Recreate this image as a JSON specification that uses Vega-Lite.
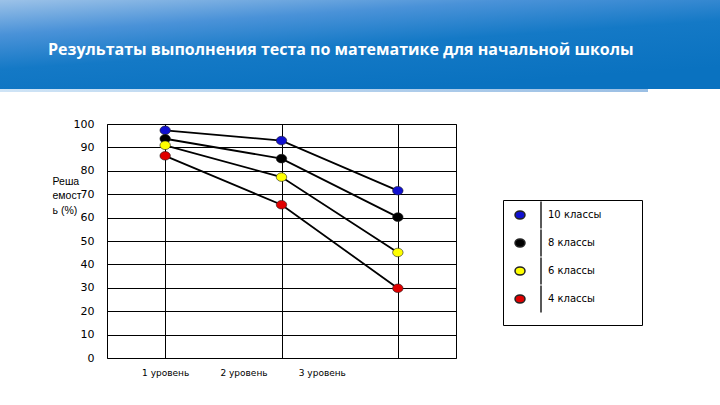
{
  "$schema": "https://vega.github.io/schema/vega-lite/v6.json",
  "padding": 0,
  "background": "white",
  "config": {"view": {"stroke": null}},
  "datasets": {
    "results": [
      {"level": "1 уровень", "group": "10 классы", "pct": 97.3},
      {"level": "2 уровень", "group": "10 классы", "pct": 92.9},
      {"level": "3 уровень", "group": "10 классы", "pct": 71.5},
      {"level": "1 уровень", "group": "8 классы", "pct": 93.7},
      {"level": "2 уровень", "group": "8 классы", "pct": 85.2},
      {"level": "3 уровень", "group": "8 классы", "pct": 60.2},
      {"level": "1 уровень", "group": "6 классы", "pct": 90.9},
      {"level": "2 уровень", "group": "6 классы", "pct": 77.3},
      {"level": "3 уровень", "group": "6 классы", "pct": 45.1},
      {"level": "1 уровень", "group": "4 классы", "pct": 86.4},
      {"level": "2 уровень", "group": "4 классы", "pct": 65.5},
      {"level": "3 уровень", "group": "4 классы", "pct": 29.8}
    ]
  },
  "spacing": 25,
  "vconcat": [
    {
      "spacing": 0,
      "vconcat": [
        {
          "width": 720,
          "height": 89,
          "data": {"values": [{}]},
          "title": {
            "text": "Результаты выполнения теста по математике для начальной школы",
            "anchor": "start",
            "orient": "top",
            "offset": -66,
            "baseline": "middle",
            "dx": 48,
            "font": "Open Sans",
            "fontSize": 16,
            "fontWeight": "bold",
            "color": "white"
          },
          "mark": {
            "type": "rect",
            "fill": {
              "gradient": "linear",
              "x1": 0, "y1": 0, "x2": 0.55, "y2": 1,
              "stops": [
                {"offset": 0, "color": "#9cc2e8"},
                {"offset": 0.3, "color": "#4a92d8"},
                {"offset": 0.6, "color": "#1479c6"},
                {"offset": 1, "color": "#0a72c0"}
              ]
            }
          }
        },
        {
          "width": 648,
          "height": 3,
          "data": {"values": [{}]},
          "mark": {
            "type": "rect",
            "fill": {
              "gradient": "linear",
              "x1": 0, "y1": 0, "x2": 1, "y2": 0,
              "stops": [
                {"offset": 0, "color": "#cfe4f6"},
                {"offset": 1, "color": "#9bbfe4"}
              ]
            }
          }
        }
      ]
    },
    {
      "spacing": 0,
      "hconcat": [
        {
          "width": 51,
          "height": 10,
          "data": {"values": []},
          "mark": "point"
        },
        {
          "width": 349,
          "height": 234,
          "view": {"stroke": "black", "strokeWidth": 1},
          "data": {"name": "results"},
          "encoding": {
            "x": {
              "field": "level",
              "type": "ordinal",
              "scale": {"type": "point", "padding": 0.5},
              "axis": {
                "title": null,
                "domain": false,
                "ticks": false,
                "grid": true,
                "gridColor": "black",
                "gridOpacity": 1,
                "gridWidth": 1,
                "labelAngle": 0,
                "labelFont": "DejaVu Sans",
                "labelFontSize": 9,
                "labelColor": "black",
                "labelPadding": 10,
                "labelOffset": {
                  "condition": [
                    {"test": "datum.value === '2 уровень'", "value": -38},
                    {"test": "datum.value === '3 уровень'", "value": -76}
                  ],
                  "value": 0
                }
              }
            },
            "y": {
              "field": "pct",
              "type": "quantitative",
              "scale": {"domain": [0, 100], "nice": false},
              "axis": {
                "values": [0, 10, 20, 30, 40, 50, 60, 70, 80, 90, 100],
                "domain": false,
                "ticks": false,
                "grid": true,
                "gridColor": "black",
                "gridOpacity": 1,
                "gridWidth": 1,
                "labelFont": "DejaVu Sans",
                "labelFontSize": 11,
                "labelColor": "black",
                "labelPadding": 13,
                "title": ["Реша", "емост", "ь (%)"],
                "titleAngle": 0,
                "titleAlign": "left",
                "titleBaseline": "top",
                "titleX": -55,
                "titleY": 52,
                "titleFont": "Liberation Sans",
                "titleFontSize": 10.5,
                "titleFontWeight": "normal",
                "titleColor": "black",
                "titleLineHeight": 14.5
              }
            }
          },
          "layer": [
            {
              "mark": {"type": "line", "color": "black", "strokeWidth": 1.8},
              "encoding": {"detail": {"field": "group"}}
            },
            {
              "mark": {
                "type": "point",
                "filled": true,
                "opacity": 1,
                "size": 110,
                "shape": "M -1,0 A 1,0.82 0 1,0 1,0 A 1,0.82 0 1,0 -1,0 Z",
                "stroke": "#222222",
                "strokeWidth": 0.6
              },
              "encoding": {
                "color": {
                  "field": "group",
                  "type": "nominal",
                  "scale": {
                    "domain": ["10 классы", "8 классы", "6 классы", "4 классы"],
                    "range": ["#1010d0", "#000000", "#ffff00", "#e00000"]
                  },
                  "legend": {
                    "title": null,
                    "orient": "none",
                    "legendX": 503,
                    "legendY": 200,
                    "padding": 9,
                    "rowPadding": -6,
                    "strokeColor": "black",
                    "fillColor": "white",
                    "symbolType": "M -1.3,0 M -1,0 A 1,0.8 0 1,0 1,0 A 1,0.8 0 1,0 -1,0 Z M 4.2,-2.72 L 4.2,2.72 M 21.9,0",
                    "symbolSize": 100,
                    "symbolOffset": 2,
                    "labelOffset": 22,
                    "labelFont": "DejaVu Sans",
                    "labelFontSize": 10,
                    "labelColor": "black",
                    "encode": {
                      "symbols": {
                        "update": {
                          "stroke": {"value": "black"},
                          "strokeWidth": {"value": 1},
                          "opacity": {"value": 1}
                        }
                      }
                    }
                  }
                }
              }
            }
          ]
        }
      ]
    }
  ]
}
